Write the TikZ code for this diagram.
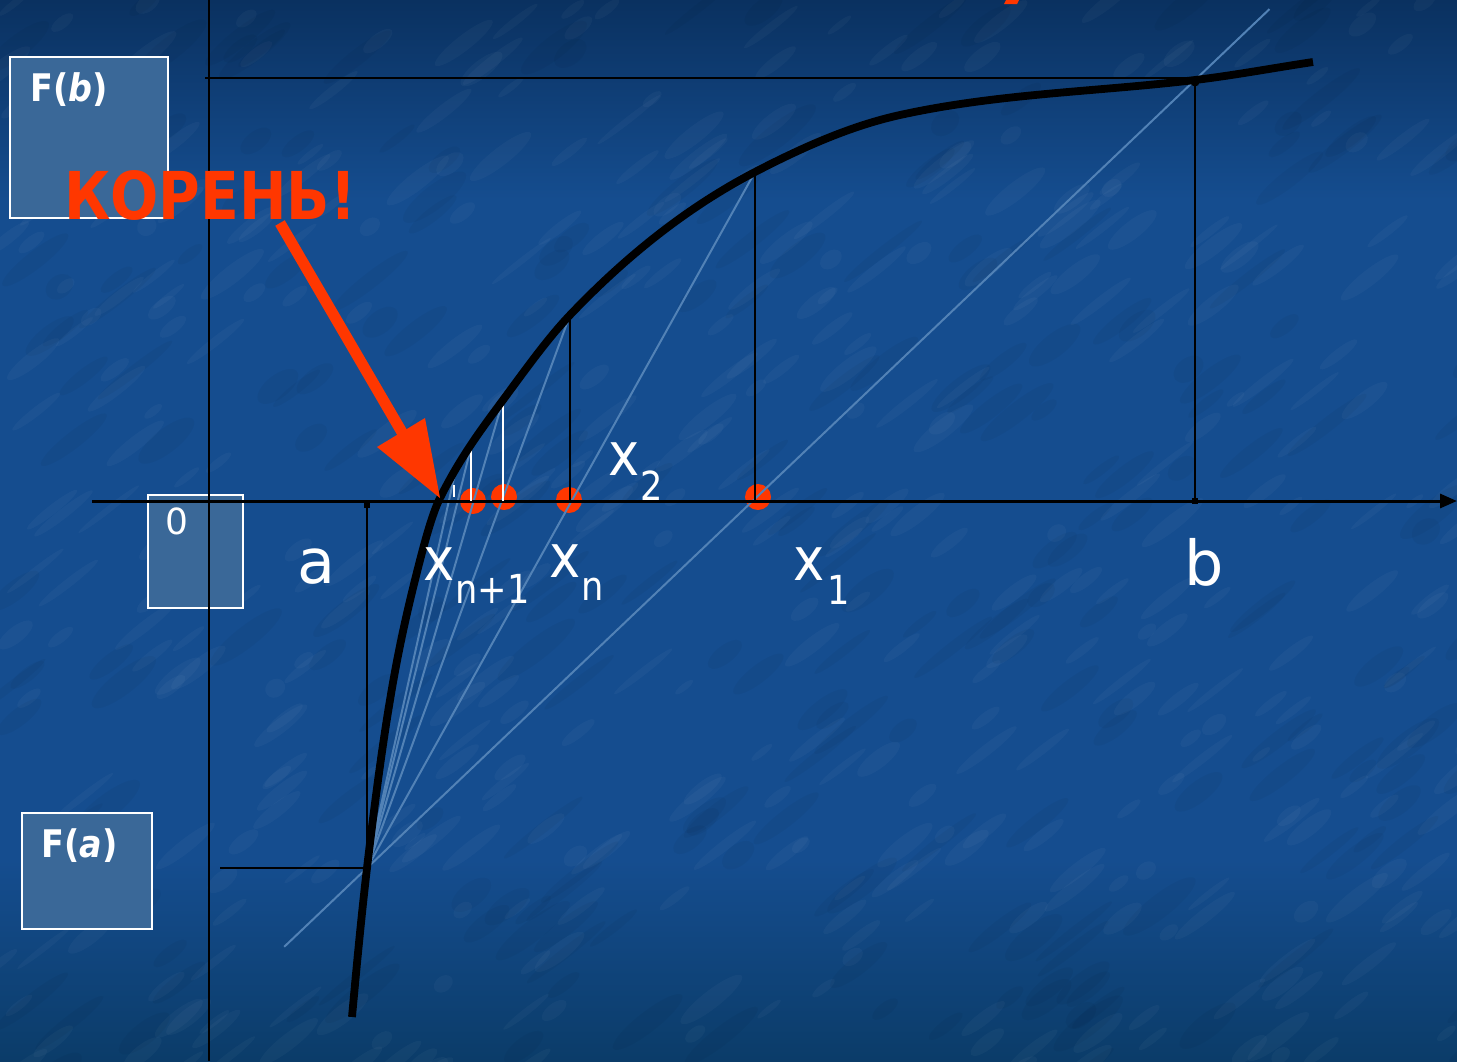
\documentclass[tikz,border=0pt]{standalone}
\usepackage{fontspec}
\setmainfont{DejaVu Sans}
\usetikzlibrary{arrows.meta,calc}
\definecolor{bgtop}{HTML}{0A3160}
\definecolor{bgmid}{HTML}{154D8F}
\definecolor{bgbot}{HTML}{0B3C69}
\definecolor{boxfill}{HTML}{3A6898}
\definecolor{chord}{HTML}{5282B6}
\definecolor{rootred}{RGB}{255,55,0}
\begin{document}
\begin{tikzpicture}[x=0.5pt,y=-0.5pt,
  blackline/.style={black, line width=1.1pt},
  axisline/.style={black, line width=1.5pt},
  chordline/.style={chord, line width=1pt},
  whiteline/.style={white, line width=1pt},
  curveline/.style={black, line width=3.9pt},
  valbox/.style={fill=boxfill, draw=white, line width=1pt},
  rdot/.style={fill=rootred},
  lab/.style={text=white, inner sep=0pt, anchor=base west, font=\fontsize{31}{31}\selectfont},
  xlab/.style={text=white, inner sep=0pt, anchor=base west, font=\fontsize{30}{30}\selectfont, xscale=0.88},
  sublab/.style={text=white, inner sep=0pt, anchor=base west, font=\fontsize{20}{20}\selectfont, xscale=0.88},
  boxlab/.style={text=white, inner sep=0pt, anchor=base west, font=\bfseries\fontsize{19}{19}\selectfont, xscale=0.88},
]
\useasboundingbox (0,0) rectangle (1457,1061);
% background
\fill[bgmid] (0,0) rectangle (1457,1061);
\shade[top color=bgtop, bottom color=bgmid] (0,0) rectangle (1457,200);
\shade[top color=bgmid, bottom color=bgbot] (0,860) rectangle (1457,1061);
\pgfmathsetseed{11}
\foreach \i in {1,...,450}{
  \pgfmathsetmacro{\sxa}{rnd*1500}
  \pgfmathsetmacro{\sya}{rnd*1100}
  \pgfmathsetmacro{\slen}{10+rnd*30}
  \pgfmathsetmacro{\swid}{3+rnd*6}
  \fill[white, opacity=0.03, rotate around={38:(\sxa,\sya)}] (\sxa,\sya) ellipse[x radius=\slen, y radius=\swid];
}
\foreach \i in {1,...,250}{
  \pgfmathsetmacro{\sxa}{rnd*1500}
  \pgfmathsetmacro{\sya}{rnd*1100}
  \pgfmathsetmacro{\slen}{15+rnd*35}
  \pgfmathsetmacro{\swid}{4+rnd*8}
  \fill[black, opacity=0.035, rotate around={38:(\sxa,\sya)}] (\sxa,\sya) ellipse[x radius=\slen, y radius=\swid];
}
% red fragment at the top
\fill[rootred] (1006,0) -- (1019,0) -- (1017,4) -- (1004,4) -- cycle;

% value boxes
\draw[valbox] (10,57) rectangle (168,218);
\draw[valbox] (22,813) rectangle (152,929);
\draw[valbox] (148,495) rectangle (243,608);
\node[boxlab] (fb) at (30,101) {F(\textit{b})};
\node[boxlab] (fa) at (41,857) {F(\textit{a})};
\node[text=white, inner sep=0pt, anchor=base west, font=\fontsize{18}{18}\selectfont] (zero) at (165,534) {0};

% key points
\coordinate (A) at (367,868);
\coordinate (B) at (1195,80);
\coordinate (P1) at (755,172);
\coordinate (P2) at (570,315);
\coordinate (P3) at (503,400);
\coordinate (P4) at (471,447);
\coordinate (P5) at (456,469);
\coordinate (R) at (440,498);

% red dots
\fill[rdot] (473,501) circle[radius=13];
\fill[rdot] (504,497) circle[radius=13];
\fill[rdot] (569,500) circle[radius=13];
\fill[rdot] (758,497) circle[radius=13];

% chords
\draw[chordline] ($(A)!-0.1!(B)$) -- ($(A)!1.09!(B)$);
\draw[chordline] (A) -- (P1);
\draw[chordline] (A) -- (P2);
\draw[chordline] (A) -- (P3);
\draw[chordline] (A) -- (P4);
\draw[chordline] (A) -- (P5);

% axes
\coordinate (xs) at (92,501);
\coordinate (xe) at (1457,501);
\coordinate (ys) at (209,0);
\coordinate (ye) at (209,1061);
\draw[axisline, -{Triangle[length=8.5pt,width=7pt]}] (xs) -- (xe);
\draw[blackline, line width=1.3pt] (ys) -- (ye);

% level lines and verticals
\draw[blackline] (205,78) -- (1195,78);
\draw[blackline] (220,868) -- (A);
\draw[blackline] (B) -- (1195,501);
\draw[blackline] (367,505) -- (A);
\draw[blackline] (P1) -- (755,501);
\draw[blackline] (P2) -- (570,501);
\draw[whiteline] (P3) -- (503,501);
\draw[whiteline] (P4) -- (471,501);
\draw[whiteline] (454,485) -- (454,497);
\fill[black] (364,502) rectangle (370,508);
\fill[black] (1192,498) rectangle (1198,504);
\fill[black] (1195,82) circle[radius=4.5];

% the curve
\draw[curveline] (352,1017)
  .. controls (357,962) and (362,910.5) .. (A)
  .. controls (374.7,802.8) and (382.3,746) .. (390,700)
  .. controls (398.3,650) and (406.7,613.3) .. (415,580)
  .. controls (423.3,546.7) and (431.7,514.7) .. (R)
  .. controls (461,456) and (482,428.4) .. (P3)
  .. controls (525.3,369.8) and (547.7,338.4) .. (P2)
  .. controls (631.7,250.25) and (693.3,204.1) .. (P1)
  .. controls (803.3,146.9) and (851.7,125.6) .. (900,115)
  .. controls (998.3,93.4) and (1096.7,91.8) .. (B)
  .. controls (1234.3,75.3) and (1273.7,67.9) .. (1313,62);

% labels
\node[lab] (la) at (297,583) {a};
\node[lab] (lb) at (1184,585) {b};
\node[xlab] (lxn1) at (423,580) {x};
\node[sublab] (lxn1s) at (455,603) {n+1};
\node[xlab] (lxn) at (549,577) {x};
\node[sublab] (lxns) at (581,600) {n};
\node[xlab] (lx2) at (608,475) {x};
\node[sublab] (lx2s) at (640,500) {2};
\node[xlab] (lx1) at (793,580) {x};
\node[sublab] (lx1s) at (827,604) {1};

% arrow to the root
\coordinate (arrS) at (280,223);
\coordinate (arrE) at (403,434);
\draw[rootred, line width=5.5pt] (arrS) -- (arrE);
\fill[rootred] (377,447) -- (R) -- (425,418) -- cycle;

% root text
\node[text=rootred, inner sep=0pt, anchor=base west, font=\bfseries\fontsize{33}{33}\selectfont, xscale=0.86] (root) at (64,219) {КОРЕНЬ!};
\end{tikzpicture}
\end{document}
